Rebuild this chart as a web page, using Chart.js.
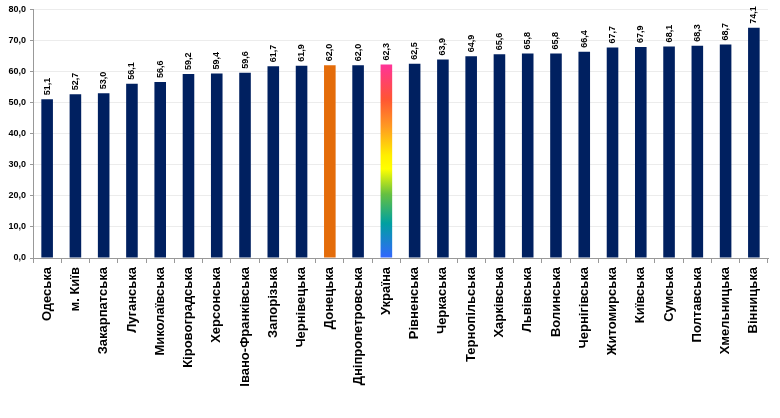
<!DOCTYPE html>
<html>
<head>
<meta charset="utf-8">
<script src="https://cdn.jsdelivr.net/npm/chart.js@4/dist/chart.umd.min.js"></script>
<style>
  html, body { margin: 0; padding: 0; background: #ffffff; }
  #wrap { width: 780px; height: 418px; }
</style>
</head>
<body>
<div id="wrap"><canvas id="chart" width="780" height="418"></canvas></div>
<script>
var regions = ['Одеська', 'м. Київ', 'Закарпатська', 'Луганська', 'Миколаївська', 'Кіровоградська',
  'Херсонська', 'Івано-Франківська', 'Запорізька', 'Чернівецька', 'Донецька', 'Дніпропетровська',
  'Україна', 'Рівненська', 'Черкаська', 'Тернопільська', 'Харківська', 'Львівська', 'Волинська',
  'Чернігівська', 'Житомирська', 'Київська', 'Сумська', 'Полтавська', 'Хмельницька', 'Вінницька'];
var values = [51.1, 52.7, 53.0, 56.1, 56.6, 59.2, 59.4, 59.6, 61.7, 61.9, 62.0, 62.0, 62.3,
  62.5, 63.9, 64.9, 65.6, 65.8, 65.8, 66.4, 67.7, 67.9, 68.1, 68.3, 68.7, 74.1];
var yTicks = [0, 10, 20, 30, 40, 50, 60, 70, 80];

var NAVY = '#002060';
var ORANGE = '#e46c0a';

function fmt(v) {
  return v.toFixed(1).replace('.', ',');
}

function barColor(ctx) {
  var name = regions[ctx.dataIndex];
  if (name === 'Донецька') return ORANGE;
  if (name === 'Україна') {
    var chart = ctx.chart;
    var ys = chart.scales.y;
    if (!ys || !chart.chartArea) return NAVY;
    var y0 = ys.getPixelForValue(0);
    var y1 = ys.getPixelForValue(values[ctx.dataIndex]);
    var g = chart.ctx.createLinearGradient(0, y0, 0, y1);
    g.addColorStop(0, '#3366ff');
    g.addColorStop(0.18, '#00a0a0');
    g.addColorStop(0.33, '#66c040');
    g.addColorStop(0.46, '#ffff00');
    g.addColorStop(0.53, '#ffee00');
    g.addColorStop(0.68, '#ff9922');
    g.addColorStop(0.82, '#ff5533');
    g.addColorStop(1, '#ff3399');
    return g;
  }
  return NAVY;
}

// value labels above bars, turned vertical
var valueLabels = {
  id: 'valueLabels',
  afterDatasetsDraw: function(chart) {
    var c = chart.ctx;
    var meta = chart.getDatasetMeta(0);
    c.save();
    c.font = 'bold 9px "Liberation Sans", Arial, sans-serif';
    c.fillStyle = '#000000';
    c.textAlign = 'left';
    c.textBaseline = 'middle';
    meta.data.forEach(function(bar, i) {
      c.save();
      c.translate(bar.x, bar.y - 4);
      c.rotate(-Math.PI / 2);
      c.fillText(fmt(values[i]), 0, 0);
      c.restore();
    });
    c.restore();
  }
};

new Chart(document.getElementById('chart'), {
  type: 'bar',
  data: {
    labels: regions,
    datasets: [{
      data: values,
      backgroundColor: barColor,
      borderWidth: 0,
      barPercentage: 0.41,
      categoryPercentage: 1.0
    }]
  },
  options: {
    responsive: false,
    animation: false,
    layout: { padding: { top: 6, right: 12, left: 0, bottom: 0 } },
    plugins: {
      legend: { display: false },
      tooltip: { enabled: false }
    },
    scales: {
      y: {
        min: 0,
        max: 80,
        afterFit: function(s) { s.width = 33; },
        afterBuildTicks: function(s) {
          s.ticks = yTicks.map(function(v) { return { value: v }; });
        },
        ticks: {
          color: '#000000',
          font: { family: '"Liberation Sans", Arial, sans-serif', size: 9, weight: 'bold' },
          padding: 4,
          callback: function(v) { return fmt(v); }
        },
        grid: {
          color: function(ctx) { return ctx.tick.value === 0 ? 'rgba(0,0,0,0)' : '#ececec'; },
          drawTicks: true,
          tickLength: 3,
          tickColor: '#999999'
        },
        border: { color: '#999999' }
      },
      x: {
        afterFit: function(s) { s.height = 160; },
        ticks: {
          color: '#000000',
          minRotation: 90,
          maxRotation: 90,
          autoSkip: false,
          padding: 4,
          font: { family: '"Liberation Sans", Arial, sans-serif', size: 13, weight: 'bold' }
        },
        grid: {
          offset: true,
          drawOnChartArea: false,
          tickLength: 5,
          color: '#999999'
        },
        border: { color: '#999999' }
      }
    }
  },
  plugins: [valueLabels]
});
</script>
</body>
</html>
